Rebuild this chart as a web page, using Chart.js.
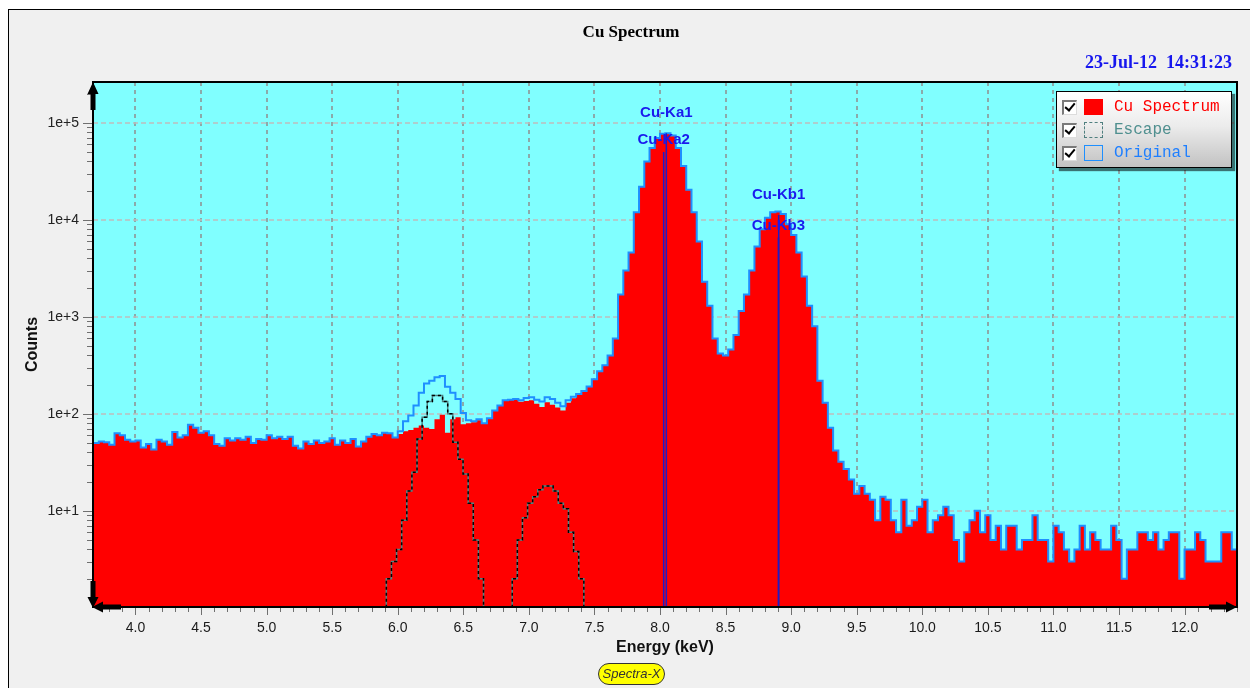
<!DOCTYPE html>
<html>
<head>
<meta charset="utf-8">
<script src="https://cdn.jsdelivr.net/npm/chart.js@4/dist/chart.umd.min.js"></script>
<style>
html,body{margin:0;padding:0;background:#fff;}
body{width:1250px;height:688px;overflow:hidden;position:relative;font-family:"Liberation Sans",Arial,sans-serif;}
#panel{position:absolute;left:8px;top:9px;width:1300px;height:720px;background:#f0f0f0;border-left:1.5px solid #000;border-top:1.5px solid #000;}
#c{position:absolute;left:0;top:0;}
#date{position:absolute;left:1000px;top:52px;width:232px;text-align:right;font:bold 18px "Liberation Serif","Times New Roman",serif;color:#1616ee;line-height:20px;white-space:pre;}
#legend{position:absolute;left:1056px;top:91px;width:176px;height:77px;box-sizing:border-box;border:1.5px solid #000;background:linear-gradient(#ffffff 0%,#ececec 45%,#c2c2c2 100%);box-shadow:3px 3px 1px rgba(0,0,0,.55);}
.row{position:absolute;left:0;height:18px;width:170px;}
.cb{position:absolute;left:5px;top:1px;width:12px;height:12px;background:#fff;border-top:2px solid #7a7a7a;border-left:2px solid #7a7a7a;border-right:1px solid #dcdcdc;border-bottom:1px solid #dcdcdc;}
.ck{position:absolute;left:3px;top:-1px;width:4px;height:8px;border-right:2.5px solid #000;border-bottom:2.5px solid #000;transform:rotate(40deg);}
.sym{position:absolute;left:27px;top:0;width:19px;height:16px;box-sizing:border-box;}
.row span{position:absolute;left:57px;top:-1px;font:16px "Liberation Mono","Courier New",monospace;line-height:18px;white-space:pre;}
#badge{position:absolute;left:598px;top:663px;width:67px;height:22px;box-sizing:border-box;border:1px solid #333;border-radius:11px;background:#ffff00;font:italic 13px "Liberation Sans",Arial,sans-serif;color:#333;text-align:center;line-height:20px;}
</style>
</head>
<body>
<div id="panel"></div>
<canvas id="c" width="1250" height="688"></canvas>
<div id="date">23-Jul-12  14:31:23</div>
<div id="legend">
  <div class="row" style="top:7px"><div class="cb"><div class="ck"></div></div><div class="sym" style="background:#ff0000;border:1px solid #ff0000"></div><span style="color:#ff0000">Cu Spectrum</span></div>
  <div class="row" style="top:30px"><div class="cb"><div class="ck"></div></div><div class="sym" style="border:1.5px dashed #4f7f7f"></div><span style="color:#4f8f8f">Escape</span></div>
  <div class="row" style="top:53px"><div class="cb"><div class="ck"></div></div><div class="sym" style="border:1.5px solid #1e8fff"></div><span style="color:#1e7fff">Original</span></div>
</div>
<div id="badge">Spectra-X</div>
<script>
// ---------- data ----------
const binStart = 3.68;      // keV, start of first channel
const binWidth = 0.04;      // keV per channel

const originalCounts = [
  50,52,51,48,63,60,54,52,53,45,
  49,43,54,52,48,65,57,60,77,72,
  64,66,60,49,47,56,53,56,54,58,
  50,55,54,60,56,58,55,58,47,44,
  52,49,53,50,52,56,48,53,50,55,
  46,52,58,62,60,64,63,57,
  66,84,96,122,165,205,220,238,245,190,
  165,142,102,86,84,88,80,90,108,122,
  138,140,142,138,146,148,140,134,148,142,
  130,120,138,150,160,172,192,228,275,318,
  400,600,
  1700,3000,4600,12000,22000,40000,55000,70000,77500,78000,
  74000,55000,36000,20500,12000,6000,2300,1300,600,420,
  400,460,650,1150,1700,3000,5300,8000,10500,12000,
  12200,11500,9000,7000,4600,2600,1300,800,220,130,
  72,42,32,27,21,15,
  18,15,13,8,14,13,8,6,13,7,
  8,11,13,6,8,9,11,9,5,3,
  6,8,10,6,9,5,7,4,7,7,
  4,5,5,9,5,5,3,7,6,4,
  3,4,7,4,6,5,4,4,7,5,
  2,4,4,6,6,5,6,4,5,6,
  6,2,4,4,6,5,3,3,3,6,
  6,4
];

const cuCounts = [
  50,52,51,48,63,60,54,52,53,45,
  49,43,54,52,48,65,57,60,77,72,
  64,66,60,49,47,56,53,56,54,58,
  50,55,54,60,56,58,55,58,47,44,
  52,49,53,50,52,56,48,53,50,55,
  46,52,58,62,60,64,63,57,
  62,66,68,72,76,72,70,88,98,64,
  88,92,78,80,82,86,80,90,108,122,
  138,140,140,133,136,138,127,118,132,124,
  116,108,130,145,157,170,192,228,275,318,
  400,600,
  1700,3000,4600,12000,22000,40000,55000,70000,77500,78000,
  74000,55000,36000,20500,12000,6000,2300,1300,600,420,
  400,460,650,1150,1700,3000,5300,8000,10500,12000,
  12200,11500,9000,7000,4600,2600,1300,800,220,130,
  72,42,32,27,21,15,
  18,15,13,8,14,13,8,6,13,7,
  8,11,13,6,8,9,11,9,5,3,
  6,8,10,6,9,5,7,4,7,7,
  4,5,5,9,5,5,3,7,6,4,
  3,4,7,4,6,5,4,4,7,5,
  2,4,4,6,6,5,6,4,5,6,
  6,2,4,4,6,5,3,3,3,6,
  6,4
];

const escapeStarts = [5.913, 6.873];
const escapeWidth = 0.039;
const escapePeak1 = [2,3,4,8,16,25,55,92,134,155,155,134,100,51,34,24,12,5,2];
const escapePeak2 = [2,5,8.5,12,14,16.5,18,18,16,12,10.5,6,3.8,2];

const lineNames    = ['Cu-Ka1','Cu-Ka2','Cu-Kb1','Cu-Kb3'];
const lineEnergies = [8.048, 8.028, 8.905, 8.903];
const lineHeights  = [78000, 50000, 11200, 6600];

const xMin = 3.676, xMax = 12.40, xStep = 0.1;
const yMin = 1.02, yMax = 264000;

// ---------- helpers ----------
function histPoints(start, w, vals){
  const pts = vals.map((v,i)=>({x:start+i*w, y:v}));
  pts.push({x:start+vals.length*w, y:vals[vals.length-1]});
  return pts;
}
function bumpPoints(start, w, vals){
  const pts = [{x:start, y:1}];
  vals.forEach((v,i)=>pts.push({x:start+i*w, y:v}));
  pts.push({x:start+vals.length*w, y:1});
  return pts;
}
const escapeData = [
  ...bumpPoints(escapeStarts[0], escapeWidth, escapePeak1),
  {x:(escapeStarts[0]+escapePeak1.length*escapeWidth+escapeStarts[1])/2, y:null},
  ...bumpPoints(escapeStarts[1], escapeWidth, escapePeak2)
];
function isHalf(v){ return Math.abs(v*2-Math.round(v*2))<1e-6; }
function isTenth(v){ return Math.abs(v*10-Math.round(v*10))<1e-6; }
function isDecade(v){ const e=Math.log10(v); return Math.abs(e-Math.round(e))<1e-6; }
function isLogStep(v){ const e=Math.floor(Math.log10(v)+1e-9); const s=v/Math.pow(10,e); return Math.abs(s-Math.round(s))<1e-6; }

const SANS = '"Liberation Sans", Arial, sans-serif';

const decor = {
  id:'decor',
  beforeDatasetsDraw(chart){
    const {ctx, chartArea:a, scales:{x,y}} = chart;
    ctx.save();
    ctx.fillStyle = '#80ffff';
    ctx.fillRect(a.left, a.top, a.right-a.left, a.bottom-a.top);
    ctx.lineWidth = 1.5;
    ctx.strokeStyle = '#8e8e8e';
    ctx.setLineDash([4,4]);
    x.ticks.forEach(t=>{
      if(!isHalf(t.value)) return;
      const px = Math.round(x.getPixelForValue(t.value));
      ctx.beginPath(); ctx.moveTo(px,a.top); ctx.lineTo(px,a.bottom); ctx.stroke();
    });
    ctx.strokeStyle = '#bdbdbd';
    ctx.setLineDash([5,3]);
    y.ticks.forEach(t=>{
      if(t.value<yMin||t.value>yMax||!isDecade(t.value)) return;
      const py = Math.round(y.getPixelForValue(t.value));
      ctx.beginPath(); ctx.moveTo(a.left,py); ctx.lineTo(a.right,py); ctx.stroke();
    });
    ctx.restore();
  },
  afterDatasetsDraw(chart){
    const {ctx, chartArea:a, scales:{x,y}} = chart;
    ctx.save();
    // emission line markers
    ctx.strokeStyle = '#1c1cc8';
    ctx.lineWidth = 1.5;
    lineEnergies.forEach((e,i)=>{
      const px = x.getPixelForValue(e), py = y.getPixelForValue(lineHeights[i]);
      ctx.beginPath(); ctx.moveTo(px,py); ctx.lineTo(px,a.bottom); ctx.stroke();
    });
    ctx.fillStyle = '#1a1aee';
    ctx.font = 'bold 15px '+SANS;
    ctx.textAlign = 'center';
    ctx.textBaseline = 'middle';
    lineNames.forEach((n,i)=>{
      const px = x.getPixelForValue(lineEnergies[i]), py = y.getPixelForValue(lineHeights[i]);
      ctx.fillText(n, px, py + (n.endsWith('1') ? -20 : -12));
    });
    // frame
    ctx.strokeStyle = '#000';
    ctx.lineWidth = 2;
    ctx.strokeRect(a.left, a.top, a.right-a.left, a.bottom-a.top);
    // tick marks
    ctx.strokeStyle = '#707070';
    ctx.lineWidth = 1;
    y.ticks.forEach(t=>{
      const v=t.value;
      if(v<yMin||v>yMax||!isLogStep(v)) return;
      const py = Math.round(y.getPixelForValue(v))+0.5;
      const len = isDecade(v)?10:6;
      ctx.beginPath(); ctx.moveTo(a.left-len,py); ctx.lineTo(a.left-1,py); ctx.stroke();
    });
    x.ticks.forEach(t=>{
      const v=t.value;
      if(!isTenth(v)) return;
      const px = Math.round(x.getPixelForValue(v))+0.5;
      const len = isHalf(v)?7:4;
      ctx.beginPath(); ctx.moveTo(px,a.bottom+1); ctx.lineTo(px,a.bottom+1+len); ctx.stroke();
    });
    // axis arrows
    ctx.fillStyle = '#000';
    function arrow(x1,y1,x2,y2,sw,hl,hw){
      const dx=x2-x1, dy=y2-y1, L=Math.hypot(dx,dy), ux=dx/L, uy=dy/L, nx=-uy, ny=ux;
      const bx=x2-ux*hl, by=y2-uy*hl;
      ctx.beginPath();
      ctx.moveTo(x1+nx*sw/2, y1+ny*sw/2);
      ctx.lineTo(bx+nx*sw/2, by+ny*sw/2);
      ctx.lineTo(bx+nx*hw/2, by+ny*hw/2);
      ctx.lineTo(x2,y2);
      ctx.lineTo(bx-nx*hw/2, by-ny*hw/2);
      ctx.lineTo(bx-nx*sw/2, by-ny*sw/2);
      ctx.lineTo(x1-nx*sw/2, y1-ny*sw/2);
      ctx.closePath(); ctx.fill();
    }
    arrow(a.left, a.top+28, a.left, a.top, 5, 12, 11);
    arrow(a.left, a.bottom-26, a.left, a.bottom+1, 5, 11, 11);
    arrow(a.left+28, a.bottom, a.left-1, a.bottom, 5, 11, 11);
    arrow(a.right-28, a.bottom, a.right, a.bottom, 5, 11, 11);
    ctx.restore();
  }
};

new Chart(document.getElementById('c'), {
  type:'line',
  data:{
    datasets:[
      {
        label:'Original',
        data: histPoints(binStart, binWidth, originalCounts),
        stepped:'before', borderColor:'#1e8fff', borderWidth:2,
        pointRadius:0, fill:false, order:0
      },
      {
        label:'Escape',
        data: escapeData,
        stepped:'before', borderColor:'#000000', borderWidth:1.5, borderDash:[3,3],
        pointRadius:0, fill:false, spanGaps:false, order:1
      },
      {
        label:'Escape base',
        data: escapeData,
        stepped:'before', borderColor:'#4f8585', borderWidth:1.5,
        pointRadius:0, fill:false, spanGaps:false, order:2
      },
      {
        label:'Cu Spectrum',
        data: histPoints(binStart, binWidth, cuCounts),
        stepped:'before', borderColor:'rgba(0,0,0,0)', borderWidth:0,
        backgroundColor:'#ff0000', pointRadius:0, fill:'start', order:3
      }
    ]
  },
  options:{
    responsive:false,
    animation:false,
    devicePixelRatio:1,
    layout:{padding:{left:22, right:10, top:0, bottom:0}},
    plugins:{
      legend:{display:false},
      tooltip:{enabled:false},
      title:{
        display:true, text:'Cu Spectrum', color:'#000',
        font:{family:'"Liberation Serif", "Times New Roman", serif', size:17, weight:'bold'},
        padding:{top:22, bottom:39.6}
      }
    },
    scales:{
      x:{
        type:'linear', min:xMin, max:xMax,
        afterFit(s){ s.height = 81; },
        grid:{display:false, drawTicks:false},
        border:{display:false},
        ticks:{
          stepSize:xStep, autoSkip:false, maxRotation:0, padding:13,
          color:'#1a1a1a', font:{family:SANS, size:14},
          callback:(v)=> isHalf(v) ? Number(v).toFixed(1) : ''
        },
        title:{
          display:true, text:'Energy (keV)', color:'#111',
          font:{family:SANS, size:16, weight:'bold'},
          padding:{top:0, bottom:31}
        }
      },
      y:{
        type:'logarithmic', min:yMin, max:yMax,
        afterFit(s){ s.width = 71; },
        grid:{display:false, drawTicks:false},
        border:{display:false},
        ticks:{
          autoSkip:false, padding:14,
          color:'#222', font:{family:SANS, size:14},
          callback:(v)=>{ const e=Math.log10(v), r=Math.round(e); return (Math.abs(e-r)<1e-6 && r>=1) ? '1e+'+r : ''; }
        },
        title:{
          display:true, text:'Counts', color:'#111',
          font:{family:SANS, size:16, weight:'bold'},
          padding:{top:1.4, bottom:0}
        }
      }
    }
  },
  plugins:[decor]
});
</script>
</body>
</html>
